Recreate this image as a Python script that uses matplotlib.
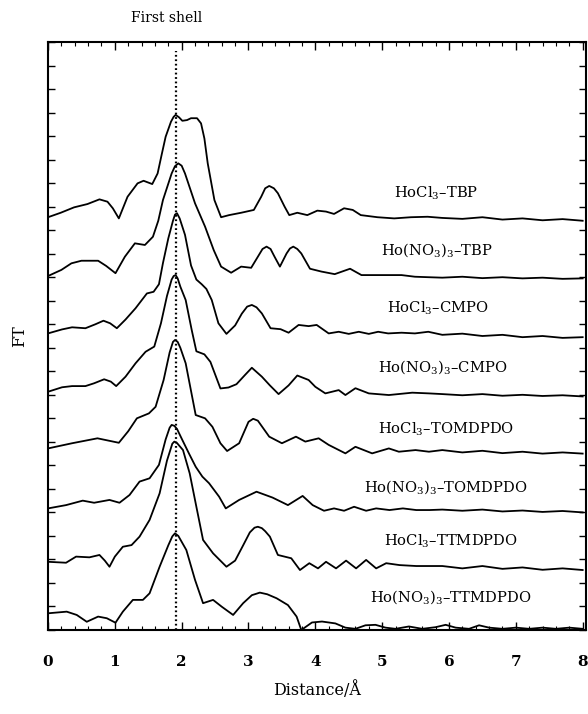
import matplotlib
matplotlib.use("Agg")
import matplotlib.pyplot as plt
from matplotlib.ticker import MultipleLocator

plt.rcParams['font.family'] = ['DejaVu Serif']
plt.rcParams['mathtext.fontset'] = 'dejavuserif'

# ---- data (x in Angstrom, y in FT units incl. vertical offset) ----
c1_x = [0.0, 0.19, 0.39, 0.59, 0.77, 0.89, 0.97, 1.06, 1.19, 1.34, 1.43, 1.56, 1.64, 1.70, 1.76, 1.84, 1.88, 1.91,
        1.96, 2.01, 2.08, 2.14, 2.23, 2.29, 2.34, 2.39, 2.49, 2.59, 2.71, 2.89, 3.08, 3.19, 3.25, 3.31, 3.38, 3.44,
        3.54, 3.61, 3.73, 3.88, 4.03, 4.16, 4.28, 4.43, 4.56, 4.68, 4.93, 5.18, 5.43, 5.68, 5.9, 6.2, 6.5, 6.8,
        7.1, 7.4, 7.7, 8.0]
c1_y = [17.55, 17.74, 17.97, 18.11, 18.31, 18.21, 17.93, 17.50, 18.42, 18.99, 19.10, 18.96, 19.41, 20.2, 20.97,
        21.61, 21.82, 21.90, 21.80, 21.65, 21.68, 21.76, 21.76, 21.54, 20.9, 19.84, 18.28, 17.55, 17.64, 17.74,
        17.86, 18.42, 18.78, 18.88, 18.78, 18.57, 18.00, 17.64, 17.74, 17.64, 17.83, 17.79, 17.69, 17.93, 17.86,
        17.64, 17.55, 17.50, 17.55, 17.57, 17.52, 17.48, 17.55, 17.45, 17.50, 17.42, 17.47, 17.40]

c2_x = [0.0, 0.2, 0.35, 0.5, 0.75, 0.87, 1.01, 1.15, 1.30, 1.45, 1.57, 1.65, 1.72, 1.85, 1.90, 1.95, 2.00, 2.05,
        2.20, 2.35, 2.48, 2.59, 2.74, 2.89, 3.04, 3.14, 3.21, 3.27, 3.33, 3.39, 3.47, 3.57, 3.62, 3.67, 3.73, 3.79,
        3.92, 4.09, 4.29, 4.52, 4.69, 4.94, 5.29, 5.49, 5.69, 5.9, 6.2, 6.5, 6.8, 7.1, 7.4, 7.7, 8.0]
c2_y = [15.05, 15.31, 15.59, 15.70, 15.70, 15.48, 15.17, 15.87, 16.44, 16.37, 16.72, 17.4, 18.28, 19.41, 19.72,
        19.84, 19.74, 19.41, 18.14, 17.15, 16.15, 15.45, 15.19, 15.45, 15.40, 15.87, 16.2, 16.30, 16.2, 15.87,
        15.45, 16.01, 16.22, 16.30, 16.2, 16.01, 15.36, 15.24, 15.13, 15.36, 15.09, 15.09, 15.09, 15.02, 15.0,
        14.98, 15.02, 14.96, 15.0, 14.95, 14.98, 14.93, 14.95]

c3_x = [0.0, 0.21, 0.36, 0.56, 0.71, 0.83, 0.93, 1.03, 1.16, 1.31, 1.48, 1.58, 1.66, 1.72, 1.80, 1.87, 1.90, 1.93,
        1.97, 2.05, 2.14, 2.22, 2.30, 2.37, 2.45, 2.55, 2.67, 2.80, 2.90, 2.98, 3.05, 3.12, 3.20, 3.33, 3.48, 3.60,
        3.75, 3.90, 4.02, 4.20, 4.35, 4.50, 4.65, 4.80, 4.94, 5.09, 5.29, 5.49, 5.69, 5.9, 6.2, 6.5, 6.8, 7.1,
        7.4, 7.7, 8.0]
c3_y = [12.61, 12.78, 12.87, 12.83, 13.0, 13.15, 13.04, 12.83, 13.2, 13.68, 14.31, 14.38, 14.7, 15.6, 16.65,
        17.4, 17.66, 17.72, 17.5, 16.8, 15.5, 14.9, 14.7, 14.5, 14.03, 13.04, 12.59, 12.95, 13.45, 13.75, 13.82,
        13.72, 13.46, 12.83, 12.79, 12.64, 12.97, 12.92, 12.97, 12.61, 12.68, 12.59, 12.68, 12.59, 12.68, 12.61,
        12.64, 12.61, 12.68, 12.55, 12.6, 12.5, 12.55, 12.45, 12.5, 12.42, 12.45]

c4_x = [0.0, 0.21, 0.36, 0.56, 0.69, 0.84, 0.94, 1.02, 1.16, 1.31, 1.46, 1.59, 1.69, 1.78, 1.85, 1.88, 1.91, 1.94,
        1.98, 2.06, 2.15, 2.22, 2.34, 2.43, 2.58, 2.70, 2.82, 2.95, 3.05, 3.20, 3.32, 3.45, 3.60, 3.73, 3.90, 4.0,
        4.15, 4.35, 4.45, 4.60, 4.80, 5.10, 5.45, 5.70, 5.9, 6.2, 6.5, 6.8, 7.1, 7.4, 7.7, 8.0]
c4_y = [10.13, 10.32, 10.37, 10.37, 10.49, 10.66, 10.56, 10.37, 10.77, 11.34, 11.83, 12.05, 13.04, 14.2, 14.9,
        15.05, 15.09, 14.95, 14.6, 14.03, 12.76, 11.85, 11.72, 11.4, 10.27, 10.31, 10.45, 10.85, 11.15, 10.77,
        10.4, 10.03, 10.4, 10.82, 10.63, 10.34, 10.06, 10.2, 9.99, 10.28, 10.06, 9.99, 10.09, 10.06, 10.03, 9.98,
        10.03, 9.96, 10.0, 9.95, 9.98, 9.93]

c5_x = [0.0, 0.36, 0.74, 1.06, 1.20, 1.33, 1.51, 1.61, 1.73, 1.82, 1.87, 1.90, 1.94, 1.98, 2.06, 2.21, 2.35,
        2.46, 2.58, 2.68, 2.86, 3.00, 3.07, 3.14, 3.31, 3.50, 3.71, 3.85, 4.05, 4.20, 4.45, 4.60, 4.85, 5.10,
        5.25, 5.50, 5.70, 5.9, 6.2, 6.5, 6.8, 7.1, 7.4, 7.7, 8.0]
c5_y = [7.72, 7.94, 8.15, 7.96, 8.45, 9.0, 9.21, 9.49, 10.63, 11.8, 12.25, 12.33, 12.25, 12.0, 11.34, 9.14, 9.0,
        8.64, 7.94, 7.61, 7.94, 8.85, 8.98, 8.9, 8.22, 7.94, 8.22, 8.01, 8.15, 7.87, 7.51, 7.79, 7.51, 7.72, 7.58,
        7.65, 7.58, 7.65, 7.55, 7.62, 7.52, 7.58, 7.50, 7.55, 7.50]

c6_x = [0.0, 0.27, 0.52, 0.69, 0.92, 1.07, 1.22, 1.37, 1.52, 1.66, 1.76, 1.82, 1.85, 1.89, 1.93, 2.01, 2.11,
        2.21, 2.31, 2.41, 2.56, 2.66, 2.86, 3.12, 3.36, 3.59, 3.81, 3.96, 4.13, 4.28, 4.43, 4.58, 4.76, 4.91,
        5.11, 5.31, 5.51, 5.71, 5.9, 6.2, 6.5, 6.8, 7.1, 7.4, 7.7, 8.0]
c6_y = [5.17, 5.31, 5.50, 5.41, 5.53, 5.41, 5.74, 6.31, 6.45, 7.02, 8.1, 8.6, 8.72, 8.68, 8.55, 8.08, 7.5, 6.94,
        6.52, 6.24, 5.67, 5.17, 5.53, 5.88, 5.63, 5.31, 5.70, 5.31, 5.07, 5.17, 5.07, 5.24, 5.07, 5.17, 5.10,
        5.17, 5.10, 5.10, 5.12, 5.07, 5.12, 5.04, 5.08, 5.02, 5.06, 5.0]

c7_x = [0.0, 0.27, 0.42, 0.62, 0.77, 0.85, 0.92, 1.0, 1.12, 1.25, 1.37, 1.52, 1.67, 1.78, 1.86, 1.89, 1.93, 2.02,
        2.12, 2.22, 2.32, 2.47, 2.67, 2.80, 2.92, 3.02, 3.09, 3.14, 3.20, 3.25, 3.32, 3.44, 3.64, 3.77, 3.91,
        4.04, 4.16, 4.31, 4.46, 4.61, 4.76, 4.91, 5.06, 5.26, 5.51, 5.71, 5.9, 6.2, 6.5, 6.8, 7.1, 7.4, 7.7, 8.0]
c7_y = [2.90, 2.86, 3.12, 3.09, 3.19, 2.95, 2.69, 3.12, 3.54, 3.61, 3.97, 4.68, 5.81, 7.2, 7.92, 8.01, 7.95,
        7.65, 6.66, 5.24, 3.83, 3.26, 2.69, 2.95, 3.6, 4.15, 4.35, 4.39, 4.33, 4.2, 3.97, 3.19, 3.05, 2.55, 2.84,
        2.62, 2.90, 2.62, 2.95, 2.62, 2.98, 2.62, 2.84, 2.76, 2.72, 2.72, 2.72, 2.62, 2.72, 2.60, 2.66, 2.56,
        2.62, 2.55]

c8_x = [0.0, 0.28, 0.43, 0.58, 0.75, 0.88, 1.01, 1.12, 1.27, 1.42, 1.52, 1.67, 1.80, 1.86, 1.90, 1.95, 2.07,
        2.20, 2.32, 2.47, 2.60, 2.77, 2.92, 3.05, 3.17, 3.28, 3.42, 3.59, 3.72, 3.79, 3.85, 3.95, 4.1, 4.3, 4.45,
        4.6, 4.75, 4.9, 5.05, 5.2, 5.4, 5.6, 5.8, 5.95, 6.1, 6.3, 6.45, 6.6, 6.8, 7.0, 7.2, 7.4, 7.6, 7.8, 8.0]
c8_y = [0.71, 0.78, 0.64, 0.35, 0.57, 0.50, 0.31, 0.78, 1.28, 1.28, 1.56, 2.69, 3.6, 3.98, 4.11, 4.0, 3.40, 2.13,
        1.14, 1.28, 0.99, 0.64, 1.14, 1.48, 1.59, 1.52, 1.35, 1.06, 0.57, 0.0, 0.12, 0.32, 0.36, 0.28, 0.1, 0.05,
        0.2, 0.22, 0.1, 0.05, 0.15, 0.05, 0.12, 0.22, 0.1, 0.05, 0.2, 0.1, 0.05, 0.1, 0.05, 0.1, 0.05, 0.1, 0.05]

labels = ["HoCl$_3$–TBP", "Ho(NO$_3$)$_3$–TBP", "HoCl$_3$–CMPO", "Ho(NO$_3$)$_3$–CMPO",
          "HoCl$_3$–TOMDPDO", "Ho(NO$_3$)$_3$–TOMDPDO", "HoCl$_3$–TTMDPDO", "Ho(NO$_3$)$_3$–TTMDPDO"]
label_x = [5.81, 5.82, 5.84, 5.91, 5.96, 5.96, 6.03, 6.03]
label_y = [18.37, 15.94, 13.48, 10.97, 8.33, 5.87, 3.57, 1.19]

first_shell = 1.92
xtick_vals = [0, 1, 2, 3, 4, 5, 6, 7, 8]

curves = [(c1_x, c1_y), (c2_x, c2_y), (c3_x, c3_y), (c4_x, c4_y),
          (c5_x, c5_y), (c6_x, c6_y), (c7_x, c7_y), (c8_x, c8_y)]

fig = plt.figure(figsize=(5.88, 7.14), dpi=100)
ax = fig.add_axes([48/588, 84/714, 538/588, 588/714])

for xs, ys in curves:
    ax.plot(xs, ys, color='black', lw=1.3, solid_joinstyle='round')

ax.plot([first_shell, first_shell], [0, 24.6], color='black', lw=1.6,
        linestyle=(0, (0.8, 1.2)))

for lab, lx, ly in zip(labels, label_x, label_y):
    ax.text(lx, ly, lab, ha='center', va='baseline', fontsize=10.6)

ax.set_xlim(0, 8.05)
ax.set_ylim(0, 25)
ax.set_xticks(xtick_vals)
ax.set_xticklabels([str(v) for v in xtick_vals], fontsize=11, fontweight='bold')
ax.xaxis.set_minor_locator(MultipleLocator(0.2))
ax.yaxis.set_major_locator(MultipleLocator(1))
ax.set_yticklabels([])
ax.tick_params(axis='both', which='major', direction='in', top=True, right=True, length=6, width=1.0)
ax.tick_params(axis='both', which='minor', direction='in', top=True, right=True, length=3, width=0.8)
ax.tick_params(axis='y', which='major', length=5)
ax.tick_params(axis='x', which='major', pad=18)
for s in ax.spines.values():
    s.set_linewidth(1.5)

ax.set_xlabel("Distance/Å", fontsize=11.5, labelpad=9)
ax.set_ylabel("FT", fontsize=11.5, labelpad=11)
fig.text(167/588, 1 - 18/714, "First shell", ha='center', va='center', fontsize=10)

fig.savefig("out.png", dpi=100)
